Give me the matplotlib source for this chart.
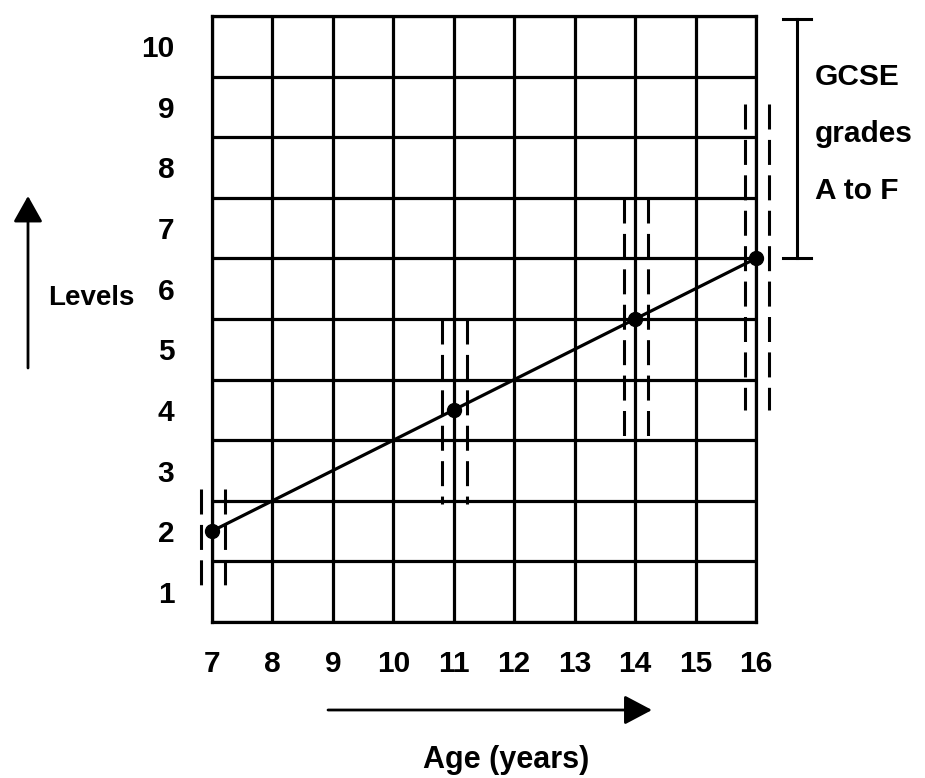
import matplotlib
matplotlib.use('Agg')
import matplotlib.pyplot as plt
from matplotlib import transforms

plt.rcParams['font.family'] = ['Liberation Sans', 'DejaVu Sans']
plt.rcParams['font.weight'] = 'bold'

# data
ages = [7, 11, 14, 16]
levels = [2, 4, 5.5, 6.5]
range_low = [1.1, 2.45, 3.5, 4.0]
range_high = [2.7, 5.5, 7.5, 9.05]
age_ticks = list(range(7, 17))
level_ticks = list(range(1, 11))
gcse_low, gcse_high = 6.5, 10.45
gcse_lines = ['GCSE', 'grades', 'A to F']

W, H = 925, 778
fig = plt.figure(figsize=(W / 100, H / 100), dpi=100)
ax = fig.add_axes([212 / W, 1 - 622 / H, (756 - 212) / W, (622 - 16) / H])

ax.set_xlim(7, 16)
ax.set_ylim(0.5, 10.5)

ax.set_xticks(age_ticks)
ax.set_yticks(level_ticks)
ax.set_yticks([v - 0.5 for v in level_ticks] + [10.5], minor=True)
ax.tick_params(axis='both', which='both', length=0, labelsize=21.5)
ax.tick_params(axis='x', pad=20)
ax.tick_params(axis='y', pad=27)
for lab in ax.get_xticklabels() + ax.get_yticklabels():
    lab.set_fontweight('bold')

ax.grid(True, which='major', axis='x', color='black', lw=2.3)
ax.grid(True, which='minor', axis='y', color='black', lw=2.3)
for sp in ax.spines.values():
    sp.set_linewidth(2.3)
    sp.set_color('black')

# trend line with points
ax.plot(ages, levels, '-', color='black', lw=2.3, zorder=4, clip_on=False)
ax.plot(ages, levels, 'o', color='black', ms=10, zorder=5, clip_on=False)

# dashed ranges either side of each point
dash_lw = 2.2
for a, lo, hi in zip(ages, range_low, range_high):
    for off in (-0.19, 0.22):
        ax.plot([a + off, a + off], [hi, lo], color='black', lw=dash_lw,
                linestyle=(0, (18 / dash_lw, 7.5 / dash_lw)),
                solid_capstyle='butt', dash_capstyle='butt',
                zorder=3, clip_on=False)

# GCSE bracket
trans = transforms.blended_transform_factory(ax.transAxes, ax.transData)
bx = (797 - 212) / (756 - 212)
cap = 14 / (756 - 212)
ax.plot([bx, bx], [gcse_low, gcse_high], color='black', lw=2.2,
        transform=trans, clip_on=False)
for yv in (gcse_low, gcse_high):
    ax.plot([bx - cap, bx + cap], [yv, yv], color='black', lw=2.2,
            transform=trans, clip_on=False)

for i, t in enumerate(gcse_lines):
    fig.text(815 / W, 1 - (77 + i * 57) / H, t, fontsize=21.5,
             fontweight='bold', ha='left', va='center')

# Levels arrow and label
fig.text(48 / W, 1 - 298 / H, 'Levels', fontsize=20, fontweight='bold',
         ha='left', va='center')
ax.annotate('', xy=(28 / W, 1 - 196 / H), xytext=(28 / W, 1 - 368 / H),
            xycoords='figure fraction', textcoords='figure fraction',
            arrowprops=dict(arrowstyle='-|>,head_length=0.8,head_width=0.45',
                            lw=2, color='black', mutation_scale=20,
                            shrinkA=0, shrinkB=0))

# Age arrow and label
ax.annotate('', xy=(652 / W, 1 - 710 / H), xytext=(328 / W, 1 - 710 / H),
            xycoords='figure fraction', textcoords='figure fraction',
            arrowprops=dict(arrowstyle='-|>,head_length=0.85,head_width=0.45',
                            lw=2, color='black', mutation_scale=20,
                            shrinkA=0, shrinkB=0))
fig.text(506 / W, 1 - 760 / H, 'Age (years)', fontsize=22, fontweight='bold',
         ha='center', va='center')

fig.savefig('out.png', dpi=100, facecolor='white')
